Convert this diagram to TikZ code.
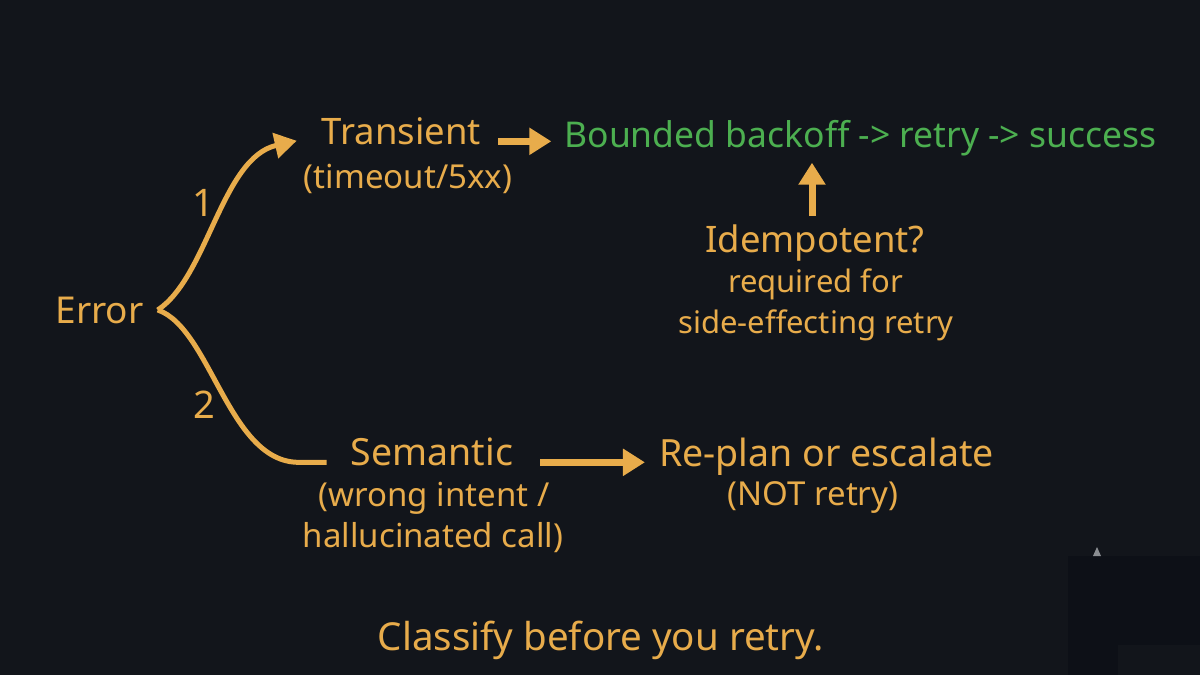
\documentclass[tikz,border=0pt]{standalone}
\usepackage{fontspec}
\setmainfont{Noto Sans}
\usepackage{tikz}
\usetikzlibrary{arrows.meta,positioning}
\definecolor{cBg}{HTML}{12151B}
\definecolor{cWarm}{HTML}{E8AC4B}
\definecolor{cOk}{HTML}{4CAF50}
\definecolor{cShade}{HTML}{0D1017}
\definecolor{cFaint}{HTML}{8A8D92}

\begin{document}
\begin{tikzpicture}[x=1pt,y=-1pt,
  txt/.style={
    anchor=base, inner sep=0, text=cWarm,
    font=\fontsize{36.5}{40}\selectfont
  },
  sub/.style={txt,font=\fontsize{33}{38}\selectfont},
  note/.style={txt,font=\fontsize{31}{36}\selectfont},
  big/.style={txt,font=\fontsize{38}{44}\selectfont},
  flow/.style={-{Triangle[length=22pt,width=26pt]},line width=7pt,cWarm},
  branch/.style={line width=5pt,cWarm},
]
% Background
\fill[cBg] (0,0) rectangle (1200,675);
\fill[cShade] (1068,556) rectangle (1200,675);
\fill[cBg] (1118,645) rectangle (1200,675);
\fill[cFaint] (1093,556) -- (1097,547) -- (1101,556) -- cycle;
% Root
\node[big,font=\fontsize{37}{44}\selectfont] (err) at (99.5,323) {Error};
\coordinate (fork) at ([xshift=14pt]err.east);
% Branches
\node[txt] (trans) at (401.5,144) {Transient};
\node[sub] (transSub) at (408,188) {(timeout/5xx)};
\node[txt,font=\fontsize{37.5}{40}\selectfont] (sem) at (432,465) {Semantic};
\node[sub] (semSub1) at (434,506) {(wrong intent /};
\node[sub] (semSub2) at (433,547) {hallucinated call)};
% Outcomes
\node[txt,text=cOk,font=\fontsize{35.5}{40}\selectfont] (bounded) at (860.5,147) {Bounded backoff -> retry -> success};
\node[txt,font=\fontsize{37.5}{40}\selectfont] (replan) at (826.5,466) {Re-plan or escalate};
\node[sub] (replanSub) at (813,505) {(NOT retry)};
% Condition
\node[txt] (idem) at (815,252) {Idempotent?};
\node[note] (idemSub1) at (815.5,292) {required for};
\node[note] (idemSub2) at (816,333) {side-effecting retry};
% Numbers
\node[big] (one) at (203,216) {1};
\node[big] (two) at (204,418) {2};
% Curves
\draw[branch,-{Triangle[length=22pt,width=25pt]}] (fork)
  .. controls +(50,-33) and +(-75,17) .. ([xshift=-25pt,yshift=-10pt]trans.west);
\draw[branch] (fork)
  .. controls +(53,18) and +(-70,0) .. ([xshift=-52pt]sem.mid west)
  -- ([xshift=-24pt]sem.mid west);
% Arrows
\draw[flow,shorten <=17pt,shorten >=13pt] (trans.mid east) -- (trans.mid east -| bounded.west);
\draw[flow,shorten <=27pt,shorten >=14pt] (sem.mid east) -- (sem.mid east -| replan.west);
\draw[flow,shorten <=8pt,shorten >=7pt] ([xshift=-3pt]idem.north) -- ([xshift=-3pt]idem.north |- bounded.south);
% Footer
\node[txt,font=\fontsize{38.5}{44}\selectfont] (footer) at (601,650) {Classify before you retry.};
\end{tikzpicture}
\end{document}
